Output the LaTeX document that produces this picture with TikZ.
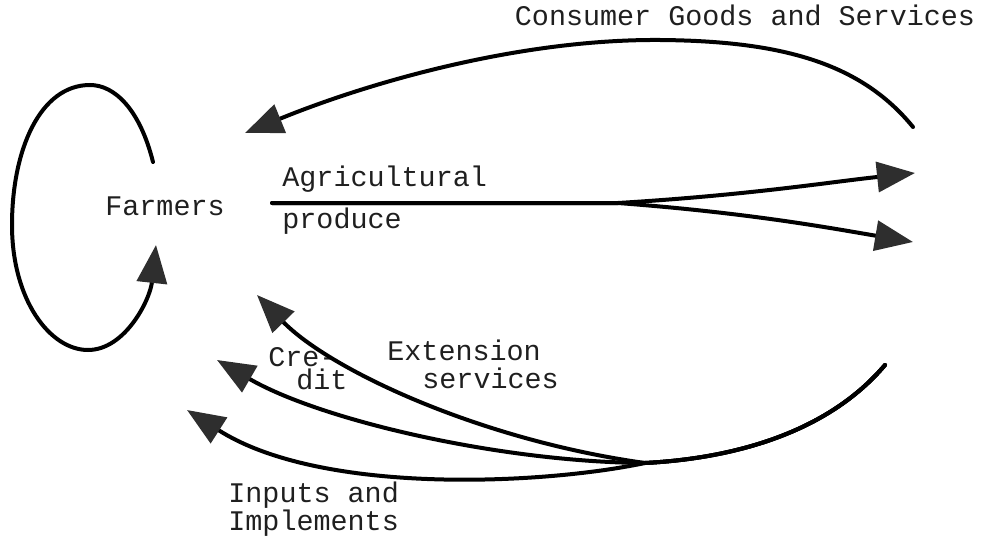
\documentclass[tikz,border=0pt]{standalone}
\usepackage{fontspec}
\newfontfamily\tw{Liberation Mono}
\usetikzlibrary{arrows.meta}
\begin{document}
\begin{tikzpicture}[x=0.5pt,y=-0.5pt,
  flow/.style={line width=2pt,black,line cap=round},
  arr/.style={flow,-{Triangle[length=19pt,width=15pt,color=black!82]}},
  lbl/.style={font=\tw\fontsize{14.2pt}{15pt}\selectfont,inner sep=0pt,text=black!88},
  lblw/.style={lbl,anchor=base west}]
\useasboundingbox (0,0) rectangle (985,540);
% labels
\node[lbl,anchor=base] (consumer) at (745,26) {Consumer Goods and Services};
\node[lbl] (farmers) at (165,206) {Farmers};
\node[lblw] (agri) at (282,186) {Agricultural};
\node[lblw] (prod) at (282,228) {produce};
\node[lbl,anchor=north west,align=left,font=\tw\fontsize{14.2pt}{10pt}\selectfont] (credit) at (268,347) {Cre-\\\hspace*{14pt}dit};
\node[lblw] (ext) at (387,360) {Extension};
\node[lblw] (serv) at (422,388) {services};
\node[lblw] (inp) at (228,502) {Inputs and};
\node[lblw] (impl) at (228,530) {Implements};
% coordinates
\coordinate (loopS) at (153,162);
\coordinate (loopE) at (156,245);
\coordinate (cgS) at (913,127);
\coordinate (cgT) at (660,40);
\coordinate (cgE) at (245,133);
\coordinate (agS) at (272,203);
\coordinate (agJ) at (618,203);
\coordinate (agU) at (915,173);
\coordinate (agL) at (913,242);
\coordinate (bS) at (885,365);
\coordinate (bJ) at (645,463);
\coordinate (extE) at (257,295);
\coordinate (creE) at (217,360);
\coordinate (inpE) at (187,410);
% loop
\draw[arr] (loopS) .. controls (140,110) and (115,85) .. (90,85)
  .. controls (40,85) and (12,150) .. (12,225)
  .. controls (12,300) and (50,350) .. (88,350)
  .. controls (125,350) and (150,300) .. (loopE);
% consumer goods
\draw[arr] (cgS) .. controls (860,62) and (780,41) .. (cgT)
  .. controls (520,39) and (370,82) .. (cgE);
% agricultural produce
\draw[arr] (agS) -- (agJ) .. controls (750,195) and (830,182) .. (agU);
\draw[arr] (agS) -- (agJ) .. controls (750,213) and (830,228) .. (agL);
% bottom flows
\draw[arr] (bS) .. controls (830,430) and (740,458) .. (bJ)
  .. controls (480,440) and (330,370) .. (extE);
\draw[arr] (bS) .. controls (830,430) and (740,458) .. (bJ)
  .. controls (500,462) and (320,420) .. (creE);
\draw[arr] (bS) .. controls (830,430) and (740,458) .. (bJ)
  .. controls (540,485) and (320,495) .. (inpE);
\end{tikzpicture}
\end{document}
